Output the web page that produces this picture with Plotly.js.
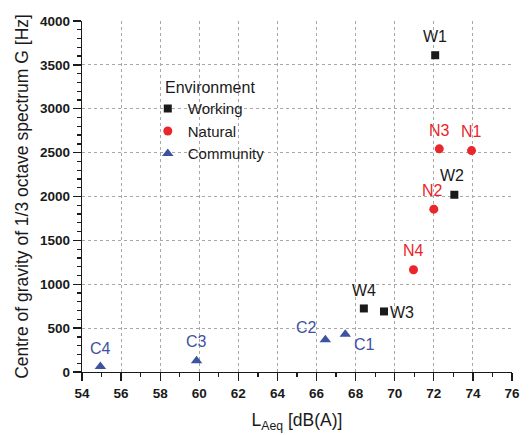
<!DOCTYPE html>
<html>
<head>
<meta charset="utf-8">
<script src="https://cdn.plot.ly/plotly-3.0.1.min.js"></script>
<style>html,body{margin:0;padding:0;background:#fff;}#chart{width:532px;height:435px;}</style>
</head>
<body>
<div id="chart"></div>
<script>
// Data
const workingLabels = ["W1", "W2", "W3", "W4"];
const workingX = [72.07, 73.05, 69.45, 68.42];
const workingY = [3610, 2020, 690, 724];

const naturalLabels = ["N1", "N2", "N3", "N4"];
const naturalX = [73.93, 72.0, 72.28, 70.96];
const naturalY = [2523, 1856, 2543, 1165];

const communityLabels = ["C1", "C2", "C3", "C4"];
const communityX = [67.47, 66.45, 59.86, 54.94];
const communityY = [430, 368, 129, 64];

// label placement (style only): [xshift, yshift]
const labelShift = {
  W1: [0, 19], W2: [-2, 19], W3: [4, -1], W4: [0, 18],
  N1: [0, 19], N2: [-1, 19], N3: [0, 18], N4: [0, 19],
  C1: [19, -10], C2: [-19, 12], C3: [0, 19], C4: [0, 18]
};

const colW = "#1a1a1a", colN = "#e8262b", colC = "#3d52a1";
const font = "Liberation Sans, Arial, sans-serif";

const traces = [
  {x: workingX, y: workingY, text: workingLabels, name: "Working", type: "scatter", mode: "markers",
   marker: {symbol: "square", size: 8, color: colW}},
  {x: naturalX, y: naturalY, text: naturalLabels, name: "Natural", type: "scatter", mode: "markers",
   marker: {symbol: "circle", size: 9, color: colN}},
  {x: communityX, y: communityY, text: communityLabels, name: "Community", type: "scatter", mode: "markers",
   marker: {symbol: "triangle-up", size: 10, color: colC}}
];

const annotations = [];
function addLabels(labels, xs, ys, color) {
  labels.forEach((l, i) => {
    const s = labelShift[l];
    annotations.push({x: xs[i], y: ys[i], xref: "x", yref: "y", text: l, showarrow: false,
      xshift: s[0], yshift: s[1], xanchor: l === "W3" ? "left" : "center",
      font: {family: font, size: 16, color: color}});
  });
}
addLabels(workingLabels, workingX, workingY, colW);
addLabels(naturalLabels, naturalX, naturalY, colN);
addLabels(communityLabels, communityX, communityY, colC);
annotations.push({xref: "paper", yref: "paper", x: 0.188, y: 0.811, xanchor: "left", yanchor: "middle",
  text: "Environment", showarrow: false, font: {family: font, size: 16, color: "#1a1a1a"}});

const layout = {
  width: 532, height: 435,
  margin: {l: 82, r: 20, t: 21, b: 63},
  paper_bgcolor: "#fff", plot_bgcolor: "#fff",
  font: {family: font, color: "#1a1a1a"},
  showlegend: true,
  legend: {x: 0.153, y: 0.797, xanchor: "left", yanchor: "top", bgcolor: "rgba(0,0,0,0)",
    font: {family: font, size: 15, color: "#1a1a1a"}, tracegroupgap: 0, itemwidth: 30},
  xaxis: {
    range: [54, 76], dtick: 2, tick0: 54,
    showline: true, linecolor: "#1a1a1a", linewidth: 1.3,
    ticks: "outside", ticklen: 8, tickwidth: 1.3, tickcolor: "#1a1a1a",
    minor: {dtick: 1, ticks: "outside", ticklen: 4, tickcolor: "#1a1a1a", showgrid: false},
    showgrid: true, gridcolor: "#a8a8a8", griddash: "dot", gridwidth: 1,
    zeroline: false,
    tickfont: {family: font, size: 13.5, color: "#1a1a1a", weight: "bold"},
    title: {text: "L<sub>Aeq</sub> [dB(A)]", font: {family: font, size: 17.5, color: "#1a1a1a"}, standoff: 14}
  },
  yaxis: {
    range: [0, 4000], dtick: 500, tick0: 0,
    showline: true, linecolor: "#1a1a1a", linewidth: 1.3,
    ticks: "outside", ticklen: 8, tickwidth: 1.3, tickcolor: "#1a1a1a",
    minor: {dtick: 100, ticks: "outside", ticklen: 4, tickcolor: "#1a1a1a", showgrid: false},
    showgrid: true, gridcolor: "#a8a8a8", griddash: "dot", gridwidth: 1,
    zeroline: false,
    tickfont: {family: font, size: 13.5, color: "#1a1a1a", weight: "bold"},
    title: {text: "Centre of gravity of 1/3 octave spectrum G [Hz]", font: {family: font, size: 17.5, color: "#1a1a1a"}, standoff: 6}
  },
  annotations: annotations
};

Plotly.newPlot("chart", traces, layout, {displayModeBar: false, staticPlot: true});
</script>
</body>
</html>
